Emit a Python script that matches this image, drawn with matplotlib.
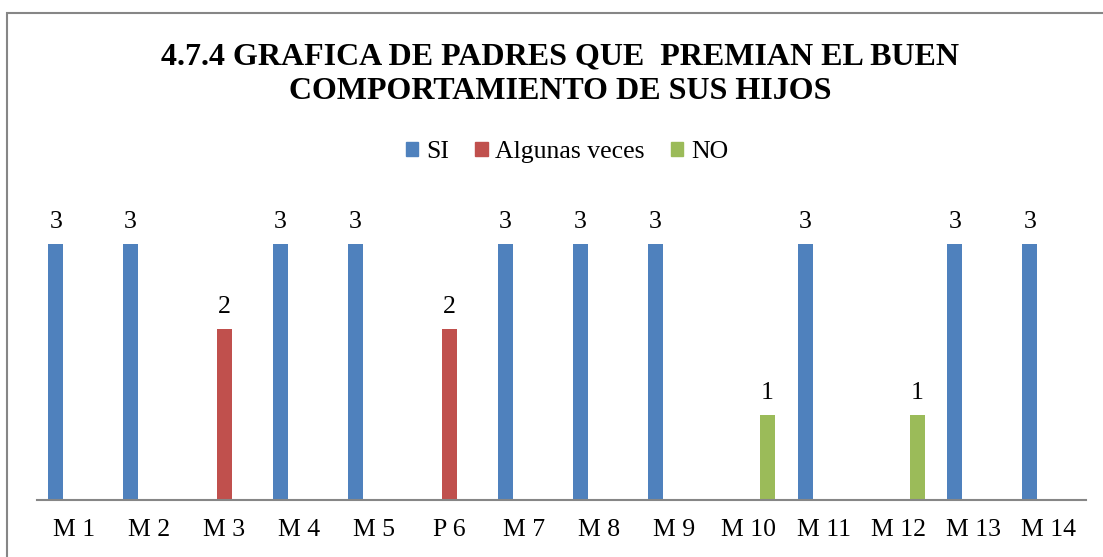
import matplotlib
matplotlib.use('Agg')
import matplotlib.pyplot as plt
from matplotlib.patches import Patch, Rectangle
import numpy as np

plt.rcParams['font.family'] = ['Liberation Serif', 'DejaVu Serif']

categories = ['M 1', 'M 2', 'M 3', 'M 4', 'M 5', 'P 6', 'M 7',
              'M 8', 'M 9', 'M 10', 'M 11', 'M 12', 'M 13', 'M 14']
si = [3, 3, 0, 3, 3, 0, 3, 3, 3, 0, 3, 0, 3, 3]
algunas = [0, 0, 2, 0, 0, 2, 0, 0, 0, 0, 0, 0, 0, 0]
no = [0, 0, 0, 0, 0, 0, 0, 0, 0, 1, 0, 1, 0, 0]

series = [('SI', si, '#4F81BD'),
          ('Algunas veces', algunas, '#C0504D'),
          ('NO', no, '#9BBB59')]

W, H = 1103, 557
fig = plt.figure(figsize=(W / 100, H / 100), dpi=100)
ax = fig.add_axes([37 / W, 1 - 500 / H, (1086 - 37) / W, (500 - 201) / H])

x = np.arange(len(categories))
offsets = [-0.25, 0.0, 0.25]
for (name, vals, color), off in zip(series, offsets):
    for xi, v in zip(x, vals):
        if v:
            ax.bar(xi + off, v, width=0.2, color=color)
            ax.annotate(str(v), (xi + off, v), xytext=(0, 11.5),
                        textcoords='offset points', ha='center',
                        va='baseline', fontsize=18.5)

ax.set_xlim(-0.5, len(categories) - 0.5)
ax.set_ylim(0, 3.5)
ax.set_xticks(x)
ax.set_xticklabels(categories, fontsize=18.5)
ax.tick_params(axis='x', length=0, pad=13.5)
ax.set_yticks([])
for s in ['top', 'right', 'left']:
    ax.spines[s].set_visible(False)
ax.spines['bottom'].set_color('#868686')
ax.spines['bottom'].set_linewidth(1.5)

fig.text(0.508, 1 - 74 / H,
         '4.7.4 GRAFICA DE PADRES QUE  PREMIAN EL BUEN\nCOMPORTAMIENTO DE SUS HIJOS',
         ha='center', va='center', fontsize=23, fontweight='bold',
         linespacing=1.25)

handles = [Patch(color=c, label=n) for n, _, c in series]
fig.legend(handles=handles, loc='center', bbox_to_anchor=(0.514, 1 - 152 / H),
           ncol=3, frameon=False, fontsize=18.5, handlelength=0.5,
           handleheight=0.5, handletextpad=0.3, columnspacing=1.0)

fig.patches.append(Rectangle((7 / W, -0.05), 1.1, 1 - 13 / H + 0.05,
                             transform=fig.transFigure, fill=False,
                             edgecolor='#868686', linewidth=1.5))

fig.savefig('out.png', dpi=100)
